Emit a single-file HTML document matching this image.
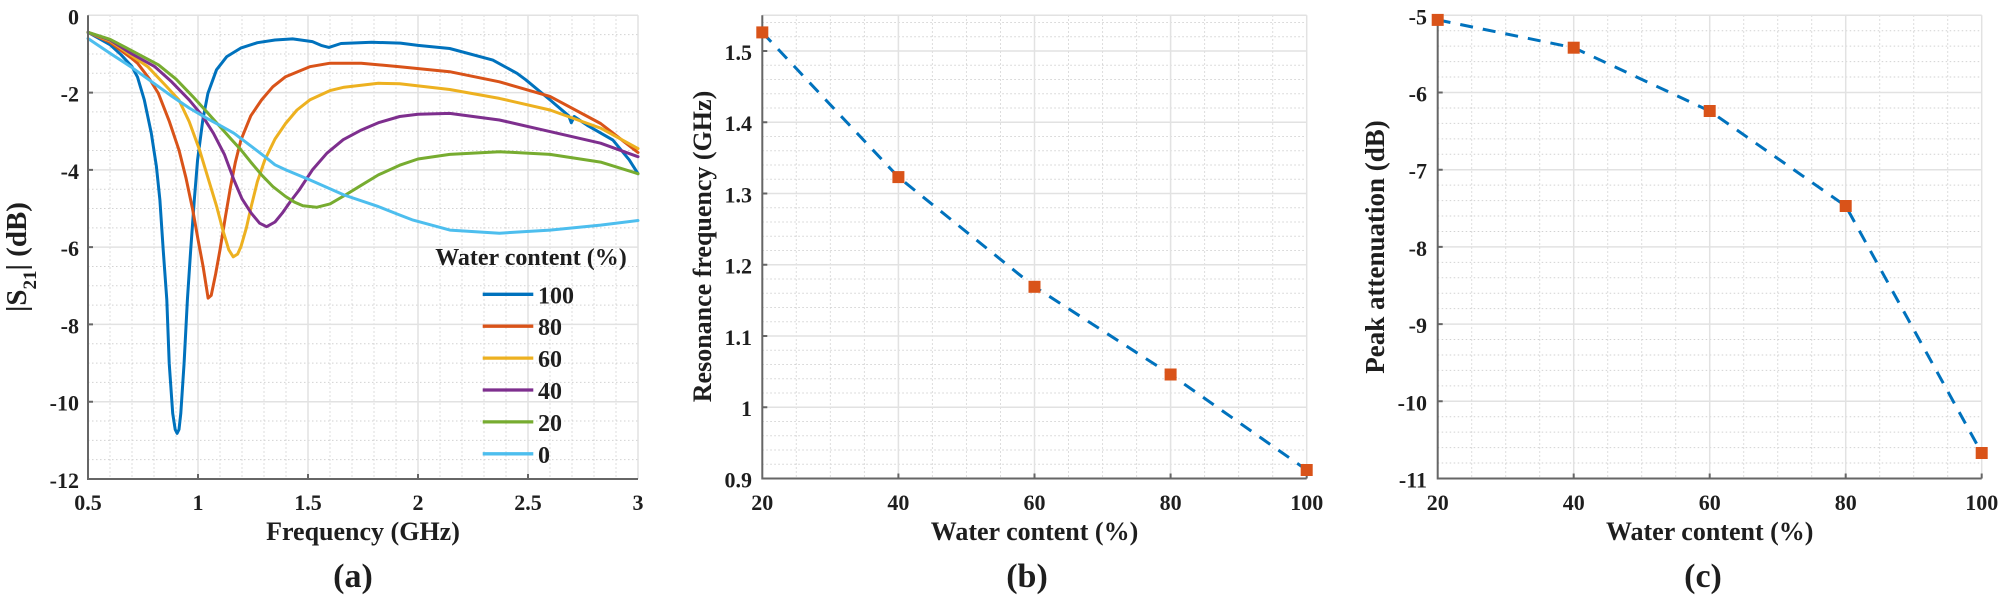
<!DOCTYPE html>
<html><head><meta charset="utf-8"><style>
html,body{margin:0;padding:0;background:#fff;}
svg{display:block;}
text{font-family:"Liberation Serif",serif;font-weight:bold;fill:#1e1e1e;}
.tk{font-size:22px;}
.ttl{font-size:26px;}
.pl{font-size:34px;}
.mg{stroke:#d2d2d2;stroke-width:1;stroke-dasharray:1.5 2.5;fill:none;}
.Mg{stroke:#e2e2e2;stroke-width:1.5;fill:none;}
.ax{stroke:#666;stroke-width:2;fill:none;}
.cv{fill:none;stroke-width:3;stroke-linejoin:round;stroke-linecap:round;}
</style></head><body>
<svg width="2005" height="600" viewBox="0 0 2005 600" xmlns="http://www.w3.org/2000/svg">
<rect width="2005" height="600" fill="#fff"/>

<!-- ============ PANEL A ============ -->
<path class="mg" d="M110 15.3V479M132 15.3V479M154 15.3V479M176 15.3V479M220 15.3V479M242 15.3V479M264 15.3V479M286 15.3V479M330 15.3V479M352 15.3V479M374 15.3V479M396 15.3V479M440 15.3V479M462 15.3V479M484 15.3V479M506 15.3V479M550 15.3V479M572 15.3V479M594 15.3V479M616 15.3V479
M88 34.62H638M88 53.94H638M88 73.26H638M88 111.9H638M88 131.22H638M88 150.55H638M88 189.19H638M88 208.51H638M88 227.83H638M88 266.47H638M88 285.79H638M88 305.11H638M88 343.75H638M88 363.07H638M88 382.4H638M88 421.04H638M88 440.36H638M88 459.68H638"/>
<path class="Mg" d="M198 15.3V479M308 15.3V479M418 15.3V479M528 15.3V479M638 15.3V479M88 15.3H638M88 92.58H638M88 169.87H638M88 247.15H638M88 324.43H638M88 401.72H638"/>

<polyline class="cv" stroke="#0072BD" points="88,32.3 110,44.7 121,54.7 132,66.7 137.5,77.1 144.3,99.9 151.3,133.2 156.4,166.4 159.9,200 163.2,249.8 166.8,299.7 169.2,363.1 172.7,413.3 175.2,429.5 177.1,433.4 179,429.5 180.8,413.3 184.1,363.1 187.4,299.7 190.7,249.8 194.3,200 197.6,159.8 202.8,120 207.9,93.4 216.5,69.8 226.8,56.6 240.7,48.1 257.4,42.7 275,40 292.6,38.9 312.4,41.6 321.2,45.4 328.9,47.4 341,43.5 371.8,42.3 400.4,43.1 418,45.4 449.7,48.5 492.8,60.1 517,73.3 525.8,79.8 550,99.9 568.7,115.8 571.3,122.7 574.2,116.5 587.4,125.4 612.9,140.1 629.2,159.8 638,173.7"/>
<polyline class="cv" stroke="#D95319" points="88,32.3 110,42.3 132,58.6 137.5,63.2 149.6,79.1 158.4,93.4 169.4,121.6 178.9,149.8 185.9,177.6 192.7,209.7 198,239.4 203.1,266.5 208.1,298.1 211.2,295.4 215.6,274.2 220,249.8 225.5,216.2 230.6,186.5 235.4,162.1 240.9,140.1 250.8,115.8 261.6,99.9 272.8,86.8 285.6,76.7 309.8,66.7 330,63.2 361.2,63.2 399.7,66.7 449.7,71.7 499.4,81.8 550,96.4 600.6,123.5 638,152.5"/>
<polyline class="cv" stroke="#EDB120" points="88,32.3 110,40.8 132,55.9 147.8,66.7 165,84.9 178.9,99.9 189.2,121.6 199.5,149.8 207.9,177.6 216.7,206.6 223.3,231.7 228.8,249.8 233.2,256.8 237.6,254.1 240.9,246.8 246.4,227.8 251.2,206.6 257.4,181.5 264.9,159.8 275,139 285.6,123.5 297,110 309.8,99.9 330,90.6 344.1,87.2 378.4,83.3 399.7,83.7 449.7,89.5 499.4,98.4 550,110 600.6,128.1 638,148.6"/>
<polyline class="cv" stroke="#7E2F8E" points="88,32.3 110,40 132,54 154.9,66.7 171.6,81.8 189.2,99.9 202.4,115.8 213.4,133.2 224.4,154.4 233.9,179.9 242,198.8 251.2,213.1 259.6,223.2 266.6,226.7 275,222 282.3,213.1 290.4,201.5 299.2,190 312.4,169.9 326.9,153.2 343.2,139.7 361.2,130.1 378.4,122.7 399.7,116.5 418,114.2 449.7,113.4 499.4,120 550,131.6 600.6,143.2 638,156.7"/>
<polyline class="cv" stroke="#77AC30" points="88,32.3 110,39.3 132,50.8 158.4,64.8 176,79.1 192.7,96.4 206.8,111.9 220,126.6 231,139 240.9,149.8 250.8,162.1 261.6,174.9 272.8,186.5 285.6,196.5 294.8,202.3 302.9,205.8 316.6,207.3 330,203.9 345.4,195 361.2,185.3 378.4,174.9 399.7,165.2 418,159 449.7,154.4 499.4,151.7 550,154.4 600.6,162.1 638,173.7"/>
<polyline class="cv" stroke="#4DBEEE" points="88,38.5 110,53.2 130.7,66.7 151.8,81.8 172,96.4 189.2,108 206.4,118.1 220,125.4 233.9,133.2 250.8,145.9 264.9,156.7 275,164.8 285.8,169.9 309.8,179.9 344.1,195 378.4,206.6 400,215.1 413,220.1 449.9,230.1 499.4,233.2 550,230.1 600.6,225.1 638,220.5"/>

<path class="ax" d="M88 15.3V479H638"/>
<path class="ax" d="M198 479v-5M308 479v-5M418 479v-5M528 479v-5M88 92.58h5M88 169.87h5M88 247.15h5M88 324.43h5M88 401.72h5"/>

<!-- legend -->
<text x="531" y="265" text-anchor="middle" style="font-size:24px">Water content (%)</text>
<g stroke-width="3.3">
<line x1="482.7" y1="294.3" x2="533.3" y2="294.3" stroke="#0072BD"/>
<line x1="482.7" y1="326.2" x2="533.3" y2="326.2" stroke="#D95319"/>
<line x1="482.7" y1="358.1" x2="533.3" y2="358.1" stroke="#EDB120"/>
<line x1="482.7" y1="390" x2="533.3" y2="390" stroke="#7E2F8E"/>
<line x1="482.7" y1="421.9" x2="533.3" y2="421.9" stroke="#77AC30"/>
<line x1="482.7" y1="453.8" x2="533.3" y2="453.8" stroke="#4DBEEE"/>
</g>
<g style="font-size:24px">
<text x="538" y="303.3">100</text>
<text x="538" y="335.2">80</text>
<text x="538" y="367.1">60</text>
<text x="538" y="399">40</text>
<text x="538" y="430.9">20</text>
<text x="538" y="462.8">0</text>
</g>

<g class="tk" text-anchor="end">
<text x="79" y="24.3">0</text>
<text x="79" y="101.6">-2</text>
<text x="79" y="178.9">-4</text>
<text x="79" y="256.2">-6</text>
<text x="79" y="333.4">-8</text>
<text x="79" y="410.7">-10</text>
<text x="79" y="488">-12</text>
</g>
<g class="tk" text-anchor="middle">
<text x="88" y="510">0.5</text>
<text x="198" y="510">1</text>
<text x="308" y="510">1.5</text>
<text x="418" y="510">2</text>
<text x="528" y="510">2.5</text>
<text x="638" y="510">3</text>
</g>
<text class="ttl" x="363" y="540" text-anchor="middle">Frequency (GHz)</text>
<text transform="translate(26,257) rotate(-90)" text-anchor="middle" style="font-size:29px">|S<tspan dy="10" style="font-size:19px">21</tspan><tspan dy="-10">| (dB)</tspan></text>
<text class="pl" x="353" y="587" text-anchor="middle">(a)</text>

<!-- ============ PANEL B ============ -->
<path class="mg" d="M796.3 15.3V478.5M830.35 15.3V478.5M864.4 15.3V478.5M932.4 15.3V478.5M966.45 15.3V478.5M1000.5 15.3V478.5M1068.5 15.3V478.5M1102.55 15.3V478.5M1136.6 15.3V478.5M1204.6 15.3V478.5M1238.65 15.3V478.5M1272.7 15.3V478.5
M762.3 464.25H1306.7M762.3 450H1306.7M762.3 435.74H1306.7M762.3 421.49H1306.7M762.3 392.99H1306.7M762.3 378.74H1306.7M762.3 364.48H1306.7M762.3 350.23H1306.7M762.3 321.73H1306.7M762.3 307.48H1306.7M762.3 293.22H1306.7M762.3 278.97H1306.7M762.3 250.47H1306.7M762.3 236.22H1306.7M762.3 221.96H1306.7M762.3 207.71H1306.7M762.3 179.21H1306.7M762.3 164.96H1306.7M762.3 150.7H1306.7M762.3 136.45H1306.7M762.3 107.95H1306.7M762.3 93.7H1306.7M762.3 79.44H1306.7M762.3 65.19H1306.7M762.3 36.69H1306.7M762.3 22.44H1306.7"/>
<path class="Mg" d="M898.4 15.3V478.5M1034.5 15.3V478.5M1170.6 15.3V478.5M1306.7 15.3V478.5M762.3 15.3H1306.7M762.3 50.94H1306.7M762.3 122.2H1306.7M762.3 193.46H1306.7M762.3 264.72H1306.7M762.3 335.98H1306.7M762.3 407.24H1306.7"/>
<path class="ax" d="M762.3 15.3V478.5H1306.7"/>
<path class="ax" d="M898.4 478.5v-5M1034.5 478.5v-5M1170.6 478.5v-5M1306.7 478.5v-5M762.3 407.24h5M762.3 335.98h5M762.3 264.72h5M762.3 193.46h5M762.3 122.2h5M762.3 50.94h5"/>
<polyline fill="none" stroke="#0072BD" stroke-width="3" stroke-dasharray="13 10" points="762.3,32.4 898.4,177.1 1034.5,286.8 1170.6,374.5 1306.7,470"/>
<g fill="#D95319">
<rect x="756.3" y="26.4" width="12" height="12"/>
<rect x="892.4" y="171.1" width="12" height="12"/>
<rect x="1028.5" y="280.8" width="12" height="12"/>
<rect x="1164.6" y="368.5" width="12" height="12"/>
<rect x="1300.7" y="464" width="12" height="12"/>
</g>
<g class="tk" text-anchor="end">
<text x="752" y="60">1.5</text>
<text x="752" y="131.2">1.4</text>
<text x="752" y="202.5">1.3</text>
<text x="752" y="273.7">1.2</text>
<text x="752" y="345">1.1</text>
<text x="752" y="416.2">1</text>
<text x="752" y="487.5">0.9</text>
</g>
<g class="tk" text-anchor="middle">
<text x="762.3" y="510">20</text>
<text x="898.4" y="510">40</text>
<text x="1034.5" y="510">60</text>
<text x="1170.6" y="510">80</text>
<text x="1306.7" y="510">100</text>
</g>
<text class="ttl" x="1034.5" y="540" text-anchor="middle">Water content (%)</text>
<text class="ttl" transform="translate(711,246.5) rotate(-90)" text-anchor="middle">Resonance frequency (GHz)</text>
<text class="pl" x="1027" y="587" text-anchor="middle">(b)</text>

<!-- ============ PANEL C ============ -->
<path class="mg" d="M1471.7 15.3V478.5M1505.7 15.3V478.5M1539.7 15.3V478.5M1607.7 15.3V478.5M1641.7 15.3V478.5M1675.7 15.3V478.5M1743.7 15.3V478.5M1777.7 15.3V478.5M1811.7 15.3V478.5M1879.7 15.3V478.5M1913.7 15.3V478.5M1947.7 15.3V478.5
M1437.7 30.74H1981.7M1437.7 46.18H1981.7M1437.7 61.62H1981.7M1437.7 77.06H1981.7M1437.7 107.94H1981.7M1437.7 123.38H1981.7M1437.7 138.82H1981.7M1437.7 154.26H1981.7M1437.7 185.14H1981.7M1437.7 200.58H1981.7M1437.7 216.02H1981.7M1437.7 231.46H1981.7M1437.7 262.34H1981.7M1437.7 277.78H1981.7M1437.7 293.22H1981.7M1437.7 308.66H1981.7M1437.7 339.54H1981.7M1437.7 354.98H1981.7M1437.7 370.42H1981.7M1437.7 385.86H1981.7M1437.7 416.74H1981.7M1437.7 432.18H1981.7M1437.7 447.62H1981.7M1437.7 463.06H1981.7"/>
<path class="Mg" d="M1573.7 15.3V478.5M1709.7 15.3V478.5M1845.7 15.3V478.5M1981.7 15.3V478.5M1437.7 15.3H1981.7M1437.7 92.5H1981.7M1437.7 169.7H1981.7M1437.7 246.9H1981.7M1437.7 324.1H1981.7M1437.7 401.3H1981.7"/>
<path class="ax" d="M1437.7 15.3V478.5H1981.7"/>
<path class="ax" d="M1573.7 478.5v-5M1709.7 478.5v-5M1845.7 478.5v-5M1981.7 478.5v-5M1437.7 92.5h5M1437.7 169.7h5M1437.7 246.9h5M1437.7 324.1h5M1437.7 401.3h5"/>
<polyline fill="none" stroke="#0072BD" stroke-width="3" stroke-dasharray="13 10" points="1437.7,19.9 1573.7,47.7 1709.7,111 1845.7,206 1981.7,453"/>
<g fill="#D95319">
<rect x="1431.7" y="13.9" width="12" height="12"/>
<rect x="1567.7" y="41.7" width="12" height="12"/>
<rect x="1703.7" y="105" width="12" height="12"/>
<rect x="1839.7" y="200" width="12" height="12"/>
<rect x="1975.7" y="447" width="12" height="12"/>
</g>
<g class="tk" text-anchor="end">
<text x="1427" y="24.3">-5</text>
<text x="1427" y="101.5">-6</text>
<text x="1427" y="178.7">-7</text>
<text x="1427" y="255.9">-8</text>
<text x="1427" y="333.1">-9</text>
<text x="1427" y="410.3">-10</text>
<text x="1427" y="487.5">-11</text>
</g>
<g class="tk" text-anchor="middle">
<text x="1437.7" y="510">20</text>
<text x="1573.7" y="510">40</text>
<text x="1709.7" y="510">60</text>
<text x="1845.7" y="510">80</text>
<text x="1981.7" y="510">100</text>
</g>
<text class="ttl" x="1709.7" y="540" text-anchor="middle">Water content (%)</text>
<text transform="translate(1384,247) rotate(-90)" text-anchor="middle" style="font-size:27px">Peak attenuation (dB)</text>
<text class="pl" x="1703" y="587" text-anchor="middle">(c)</text>
</svg>
</body></html>
